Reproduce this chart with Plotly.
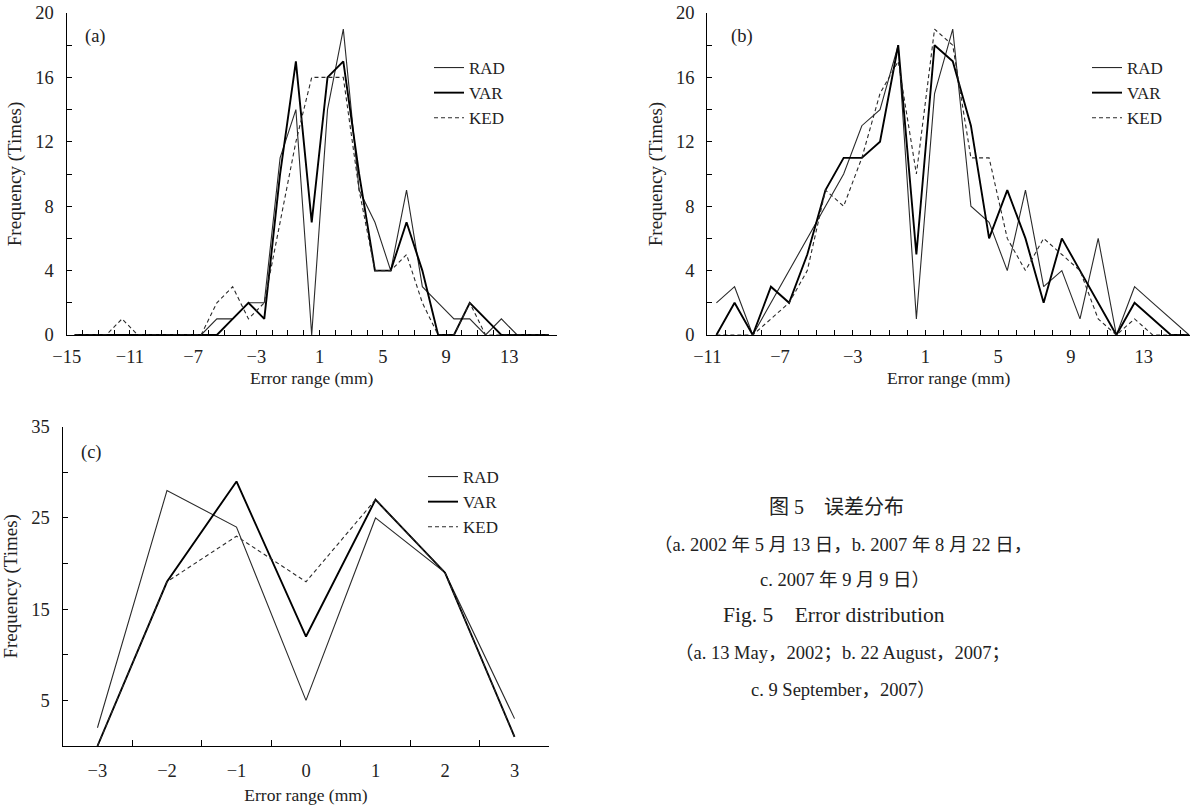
import plotly.graph_objects as go

# ---------------- data ----------------
# Panel (a): 13 May 2002
xa = [-14.5, -13.5, -12.5, -11.5, -10.5, -9.5, -8.5, -7.5, -6.5, -5.5, -4.5, -3.5, -2.5, -1.5, -0.5,
      0.5, 1.5, 2.5, 3.5, 4.5, 5.5, 6.5, 7.5, 8.5, 9.5, 10.5, 11.5, 12.5, 13.5, 14.5, 15.5]
rad_a = [0, 0, 0, 0, 0, 0, 0, 0, 0, 1, 1, 2, 2, 11, 14,
         0, 14, 19, 9, 7, 4, 9, 3, 2, 1, 1, 0, 1, 0, 0, 0]
var_a = [0, 0, 0, 0, 0, 0, 0, 0, 0, 0, 1, 2, 1, 10, 17,
         7, 16, 17, 10, 4, 4, 7, 4, 0, 0, 2, 1, 0, 0, 0, 0]
ked_a = [0, 0, 0, 1, 0, 0, 0, 0, 0, 2, 3, 1, 2, 7, 12,
         16, 16, 16, 9, 4, 4, 5, 2, 0, 0, 2, 0, 0, 0, 0, 0]

# Panel (b): 22 August 2007
xb = [-10.5, -9.5, -8.5, -7.5, -6.5, -5.5, -4.5, -3.5, -2.5, -1.5, -0.5,
      0.5, 1.5, 2.5, 3.5, 4.5, 5.5, 6.5, 7.5, 8.5, 9.5, 10.5, 11.5, 12.5, 13.5, 14.5, 15.5]
rad_b = [2, 3, 0, 2, 4, 6, 8, 10, 13, 14, 18,
         1, 15, 19, 8, 7, 4, 9, 3, 4, 1, 6, 0, 3, 2, 1, 0]
var_b = [0, 2, 0, 3, 2, 5, 9, 11, 11, 12, 18,
         5, 18, 17, 13, 6, 9, 6, 2, 6, 4, 2, 0, 2, 1, 0, 0]
ked_b = [0, 0, 0, 1, 2, 4, 9, 8, 11, 15, 17,
         10, 19, 18, 11, 11, 6, 4, 6, 5, 4, 1, 0, 1, 0, 0, 0]

# Panel (c): 9 September 2007
xc = [-3, -2, -1, 0, 1, 2, 3]
rad_c = [2, 28, 24, 5, 25, 19, 3]
var_c = [0, 18, 29, 12, 27, 19, 1]
ked_c = [0, 18, 23, 18, 27, 19, 1]

series_names = ["RAD", "VAR", "KED"]
xa_ticks = [-15, -11, -7, -3, 1, 5, 9, 13]
xb_ticks = [-11, -7, -3, 1, 5, 9, 13]
xc_ticks = [-3, -2, -1, 0, 1, 2, 3]
xc_minor = [-2.5, -1.5, -0.5, 0.5, 1.5, 2.5, 3.5]

caption_cn = ["图 5　误差分布",
              "（a. 2002 年 5 月 13 日，b. 2007 年 8 月 22 日，",
              "c. 2007 年 9 月 9 日）"]
caption_en = ["Fig. 5　Error distribution",
              "（a. 13 May，2002；b. 22 August，2007；",
              "c. 9 September，2007）"]

# ---------------- styles ----------------
SERIF = "Liberation Serif, Times New Roman, Noto Sans CJK SC, serif"
styles = {
    "RAD": dict(color="#2a2a2a", width=1.1),
    "VAR": dict(color="#000000", width=1.9),
    "KED": dict(color="#2a2a2a", width=1.1, dash="4px,3px"),
}

fig = go.Figure()

panels = [
    ("x", "y", "legend", xa, [rad_a, var_a, ked_a]),
    ("x2", "y2", "legend2", xb, [rad_b, var_b, ked_b]),
    ("x3", "y3", "legend3", xc, [rad_c, var_c, ked_c]),
]
for xax, yax, leg, xs, ys_list in panels:
    for name, ys in zip(series_names, ys_list):
        fig.add_trace(go.Scatter(
            x=xs, y=ys, mode="lines", name=name, line=styles[name],
            xaxis=xax, yaxis=yax, legend=leg, showlegend=True,
        ))

W, H = 1198, 807


def px_x(p):
    return p / W


def px_y(p):
    return 1 - p / H


axis_common = dict(
    showline=True, linecolor="black", linewidth=1.3, mirror=False,
    ticks="inside", ticklen=5, tickwidth=1.2, tickcolor="black",
    showgrid=False, zeroline=False, automargin=False,
    tickfont=dict(family=SERIF, size=18.5, color="#222"),
)
xtitle_font = dict(family=SERIF, size=17.5, color="#222")
ytitle_font = dict(family=SERIF, size=19, color="#222")

legend_common = dict(
    xanchor="left", yanchor="top", bgcolor="rgba(0,0,0,0)",
    font=dict(family=SERIF, size=17, color="#222"),
    itemwidth=30, tracegroupgap=0,
)

fig.update_layout(
    template="none",
    width=W, height=H,
    margin=dict(l=0, r=0, t=0, b=0, autoexpand=False),
    paper_bgcolor="white", plot_bgcolor="white",
    font=dict(family=SERIF, color="#222"),
    # panel (a)
    xaxis=dict(axis_common, domain=[px_x(66.7), px_x(556.7)], range=[-15, 16], anchor="y",
               tickmode="array", tickvals=xa_ticks, ticklabelstandoff=5,
               minor=dict(ticks="inside", ticklen=5, tickwidth=1, tickcolor="black", dtick=1, tick0=-15),
               title=dict(text="Error range (mm)", font=xtitle_font, standoff=5)),
    yaxis=dict(axis_common, domain=[px_y(335), px_y(13)], range=[0, 20], anchor="x",
               tickmode="linear", tick0=0, dtick=4, ticklabelstandoff=8,
               minor=dict(ticks="inside", ticklen=5, tickwidth=1, tickcolor="black", dtick=2, tick0=0),
               title=dict(text="Frequency (Times)", font=ytitle_font, standoff=8)),
    # panel (b)
    xaxis2=dict(axis_common, domain=[px_x(707.3), px_x(1190)], range=[-11, 15.55], anchor="y2",
                tickmode="array", tickvals=xb_ticks, ticklabelstandoff=5,
                minor=dict(ticks="inside", ticklen=5, tickwidth=1, tickcolor="black", dtick=1, tick0=-11),
                title=dict(text="Error range (mm)", font=xtitle_font, standoff=5)),
    yaxis2=dict(axis_common, domain=[px_y(335), px_y(13)], range=[0, 20], anchor="x2",
                tickmode="linear", tick0=0, dtick=4, ticklabelstandoff=8,
                minor=dict(ticks="inside", ticklen=5, tickwidth=1, tickcolor="black", dtick=2, tick0=0),
                title=dict(text="Frequency (Times)", font=ytitle_font, standoff=8)),
    # panel (c)
    xaxis3=dict(axis_common, domain=[px_x(62.7), px_x(549.3)], range=[-3.5, 3.5], anchor="y3",
                tickmode="array", tickvals=xc_ticks, ticklen=0, ticklabelstandoff=8,
                minor=dict(ticks="inside", ticklen=6, tickwidth=1.2, tickcolor="black",
                           tickmode="array", tickvals=xc_minor),
                title=dict(text="Error range (mm)", font=xtitle_font, standoff=8)),
    yaxis3=dict(axis_common, domain=[px_y(746), px_y(426.7)], range=[0, 35], anchor="x3",
                tickmode="linear", tick0=5, dtick=10, ticklabelstandoff=8,
                minor=dict(ticks="inside", ticklen=5, tickwidth=1, tickcolor="black", dtick=5, tick0=0),
                title=dict(text="Frequency (Times)", font=ytitle_font, standoff=8)),
    legend=dict(legend_common, x=px_x(429), y=px_y(50)),
    legend2=dict(legend_common, x=px_x(1087), y=px_y(50)),
    legend3=dict(legend_common, x=px_x(423), y=px_y(459)),
)

annotations = [
    dict(text="(a)", x=px_x(95), y=px_y(37)),
    dict(text="(b)", x=px_x(742), y=px_y(37)),
    dict(text="(c)", x=px_x(91), y=px_y(452)),
]
for a in annotations:
    fig.add_annotation(xref="paper", yref="paper", showarrow=False,
                       xanchor="center", yanchor="middle",
                       font=dict(family=SERIF, size=18.5, color="#222"), **a)

cap_rows = [
    (caption_cn[0], 836, 507, 20),
    (caption_cn[1], 843, 545, 18.5),
    (caption_cn[2], 845, 580, 18.5),
    (caption_en[0], 834, 615, 21.5),
    (caption_en[1], 842, 653, 18.5),
    (caption_en[2], 843, 690, 18.5),
]
for txt, cx, cy, sz in cap_rows:
    fig.add_annotation(xref="paper", yref="paper", showarrow=False,
                       x=px_x(cx), y=px_y(cy), xanchor="center", yanchor="middle",
                       text=txt, font=dict(family=SERIF, size=sz, color="#222"))

fig.write_html("out.html")
